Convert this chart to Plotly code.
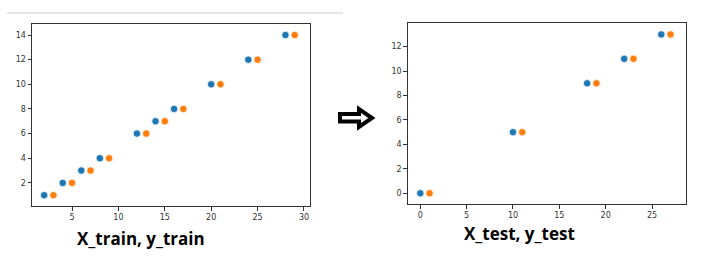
import plotly.graph_objects as go

# ---- data ----
train_x = [2, 4, 6, 8, 12, 14, 16, 20, 24, 28]
train_y = [1, 2, 3, 4, 6, 7, 8, 10, 12, 14]
train_x2 = [3, 5, 7, 9, 13, 15, 17, 21, 25, 29]
train_y2 = [1, 2, 3, 4, 6, 7, 8, 10, 12, 14]

test_x = [0, 10, 18, 22, 26]
test_y = [0, 5, 9, 11, 13]
test_x2 = [1, 11, 19, 23, 27]
test_y2 = [0, 5, 9, 11, 13]

left_label = "X_train, y_train"
right_label = "X_test, y_test"

W, H = 723, 266
BLUE = "#1f77b4"
ORANGE = "#ff7f0e"


def px(x):
    return x / W


def py(y):
    return 1 - y / H


marker_common = dict(size=7.5, line=dict(color="white", width=0.8))

fig = go.Figure()
fig.add_trace(go.Scatter(x=train_x, y=train_y, mode="markers",
                         marker=dict(color=BLUE, **marker_common), xaxis="x", yaxis="y"))
fig.add_trace(go.Scatter(x=train_x2, y=train_y2, mode="markers",
                         marker=dict(color=ORANGE, **marker_common), xaxis="x", yaxis="y"))
fig.add_trace(go.Scatter(x=test_x, y=test_y, mode="markers",
                         marker=dict(color=BLUE, **marker_common), xaxis="x2", yaxis="y2"))
fig.add_trace(go.Scatter(x=test_x2, y=test_y2, mode="markers",
                         marker=dict(color=ORANGE, **marker_common), xaxis="x2", yaxis="y2"))

axis_common = dict(
    showgrid=False, zeroline=False, showline=True, linecolor="#333333", linewidth=1,
    mirror=True, ticks="outside", ticklen=3.5, tickwidth=0.8, tickcolor="#333333",
    tickfont=dict(family="DejaVu Sans", size=8, color="#333333"),
)

fig.update_layout(
    width=W, height=H, margin=dict(l=0, r=0, t=0, b=0),
    paper_bgcolor="white", plot_bgcolor="white", showlegend=False,
    xaxis=dict(domain=[px(32), px(310.3)], range=[0.69, 30.68],
               tickvals=[5, 10, 15, 20, 25, 30], anchor="y", **axis_common),
    yaxis=dict(domain=[py(206.3), py(24.3)], range=[0.1, 14.87],
               tickvals=[2, 4, 6, 8, 10, 12, 14], anchor="x", **axis_common),
    xaxis2=dict(domain=[px(407.7), px(686.3)], range=[-1.36, 28.7],
                tickvals=[0, 5, 10, 15, 20, 25], anchor="y2", **axis_common),
    yaxis2=dict(domain=[py(204.3), py(23.3)], range=[-0.9, 13.91],
                tickvals=[0, 2, 4, 6, 8, 10, 12], anchor="x2", **axis_common),
)

# top gray rule
fig.add_shape(type="line", xref="paper", yref="paper",
              x0=px(7), x1=px(343), y0=py(13), y1=py(13),
              line=dict(color="#dcdcdc", width=1.5))

# arrow
pts = [(340, 114), (359, 114), (359, 109), (372, 118), (359, 127), (359, 121.5), (340, 121.5)]
path = "M " + " L ".join(f"{px(a):.5f},{py(b):.5f}" for a, b in pts) + " Z"
fig.add_shape(type="path", xref="paper", yref="paper", path=path,
              fillcolor="white", line=dict(color="black", width=4))

label_font = dict(family="Open Sans", size=17, color="black", weight="bold")
fig.add_annotation(text=left_label, xref="paper", yref="paper", x=px(141), y=py(238),
                   showarrow=False, xanchor="center", yanchor="middle", font=label_font)
fig.add_annotation(text=right_label, xref="paper", yref="paper", x=px(519.7), y=py(233),
                   showarrow=False, xanchor="center", yanchor="middle", font=label_font)

fig.write_html("out.html")
